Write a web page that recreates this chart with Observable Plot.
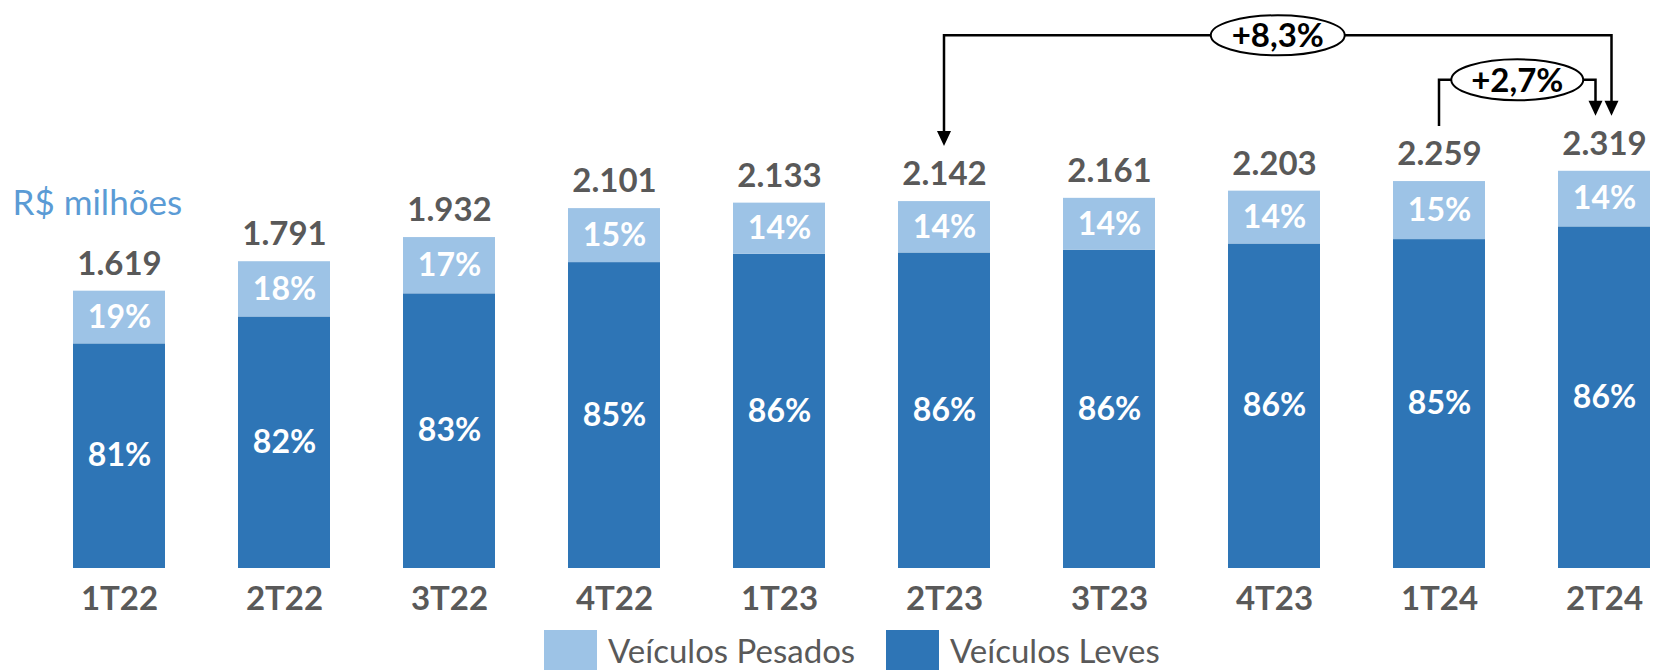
<!DOCTYPE html>
<html>
<head>
<meta charset="utf-8">
<script src="https://cdn.jsdelivr.net/npm/d3@7"></script>
<script src="https://cdn.jsdelivr.net/npm/@observablehq/plot@0.6"></script>
<style>
  body { margin: 0; background: #fff; font-family: Lato, "Open Sans", sans-serif; }
  #wrap { position: relative; width: 1667px; height: 672px; overflow: hidden; }
  .leg { position: absolute; top: 630px; height: 40px; display: flex; align-items: center;
         font-size: 33px; color: #595959; white-space: nowrap; }
  .sw { width: 53px; height: 40px; margin-right: 11px; flex: none; }
</style>
</head>
<body>
<div id="wrap"></div>
<script>
// ---- data ----
const quarters   = ["1T22","2T22","3T22","4T22","1T23","2T23","3T23","4T23","1T24","2T24"];
const totals     = [1619, 1791, 1932, 2101, 2133, 2142, 2161, 2203, 2259, 2319];
const pesadosPct = [19, 18, 17, 15, 14, 14, 14, 14, 15, 14];
const levesPct   = [81, 82, 83, 85, 86, 86, 86, 86, 85, 86];
const seriesNames  = ["Veículos Pesados", "Veículos Leves"];
const seriesColors = ["#9DC3E6", "#2E75B6"];
const unitLabel = "R$ milhões";
const growth = [
  { from: "2T23", to: "2T24", label: "+8,3%" },
  { from: "1T24", to: "2T24", label: "+2,7%" }
];

// ---- derived tables ----
const rows = quarters.flatMap((q, i) => {
  const leves = totals[i] * levesPct[i] / 100;
  return [
    { q, series: seriesNames[1], y1: 0, y2: leves, pct: levesPct[i] },
    { q, series: seriesNames[0], y1: leves, y2: totals[i], pct: pesadosPct[i] }
  ];
});
const totalRows = quarters.map((q, i) => ({ q, total: totals[i] }));
const ptBR = d3.formatLocale({ decimal: ",", thousands: ".", grouping: [3], currency: ["R$", ""] });
const fmt = ptBR.format(",d");

const grey = "#595959";
const chart = Plot.plot({
  width: 1667,
  height: 625,
  marginLeft: 71,
  marginRight: 14.5,
  marginTop: 0,
  marginBottom: 57,
  x: { type: "band", domain: quarters, paddingInner: 0.444, paddingOuter: 0, axis: null },
  y: { domain: [0, 3316], axis: null },
  color: { domain: seriesNames, range: seriesColors },
  style: { fontFamily: "Lato, 'Open Sans', sans-serif", background: "#fff", overflow: "visible" },
  marks: [
    Plot.barY(rows, { x: "q", y1: "y1", y2: "y2", fill: "series" }),
    Plot.text(rows, { x: "q", y: d => (d.y1 + d.y2) / 2, text: d => d.pct + "%",
      fill: "white", fontSize: 32, fontWeight: 700, lineAnchor: "middle" }),
    Plot.text(totalRows, { x: "q", y: "total", text: d => fmt(d.total), dy: -27,
      fill: grey, fontSize: 33, fontWeight: 700, lineAnchor: "middle" }),
    Plot.text(quarters, { x: d => d, y: () => 0, text: d => d, dy: 31,
      fill: grey, fontSize: 33, fontWeight: 700, lineAnchor: "middle" }),
    Plot.text([unitLabel], { frameAnchor: "top-left", text: d => d, dx: -59, dy: 190,
      textAnchor: "start", lineAnchor: "top", fill: "#5B9BD5", fontSize: 35 })
  ]
});
document.getElementById("wrap").appendChild(chart);

// ---- growth brackets, positioned with Plot's own scales ----
const xs = chart.scale("x"), ys = chart.scale("y");
const cx = q => xs.apply(q) + xs.bandwidth / 2;
const totalOf = q => totals[quarters.indexOf(q)];
const svg = d3.select(chart);
const g = svg.append("g").attr("class", "growth");
const bracketCfg = [
  { level: 3110, fromDx: 0, toDx: 7.5, fromArrow: true, rx: 67, ry: 20 },
  { level: 2850, fromDx: 0, toDx: -8.5, fromArrow: false, rx: 66, ry: 20.5 }
];
const gap = 55, ah = 15, aw = 7;
function arrow(x, tip) {
  g.append("path").attr("d", `M${x - aw},${tip - ah}L${x + aw},${tip - ah}L${x},${tip}Z`).attr("fill", "#000");
}
growth.forEach((b, i) => {
  const c = bracketCfg[i];
  const xa = cx(b.from) + c.fromDx, xb = cx(b.to) + c.toDx;
  const ly = ys.apply(c.level);
  const ta = ys.apply(totalOf(b.from)) - gap, tb = ys.apply(totalOf(b.to)) - gap;
  const ea = c.fromArrow ? ta - ah + 1 : ta;
  const eb = tb - ah + 1;
  g.append("path")
    .attr("d", `M${xa},${ea}V${ly}H${xb}V${eb}`)
    .attr("fill", "none").attr("stroke", "#000").attr("stroke-width", 2.5);
  if (c.fromArrow) arrow(xa, ta);
  arrow(xb, tb);
  const mx = (xa + xb) / 2;
  g.append("ellipse").attr("cx", mx).attr("cy", ly).attr("rx", c.rx).attr("ry", c.ry)
    .attr("fill", "#fff").attr("stroke", "#000").attr("stroke-width", 2);
  g.append("text").attr("x", mx).attr("y", ly).attr("dy", "0.36em")
    .attr("text-anchor", "middle").attr("font-size", 33).attr("font-weight", 700)
    .attr("fill", "#000").text(b.label);
});

// ---- legend below the SVG ----
const legendLeft = [544, 886];
seriesNames.forEach((name, i) => {
  const item = document.createElement("div");
  item.className = "leg";
  item.style.left = legendLeft[i] + "px";
  item.innerHTML = `<div class="sw" style="background:${seriesColors[i]}"></div><span>${name}</span>`;
  document.getElementById("wrap").appendChild(item);
});
</script>
</body>
</html>
